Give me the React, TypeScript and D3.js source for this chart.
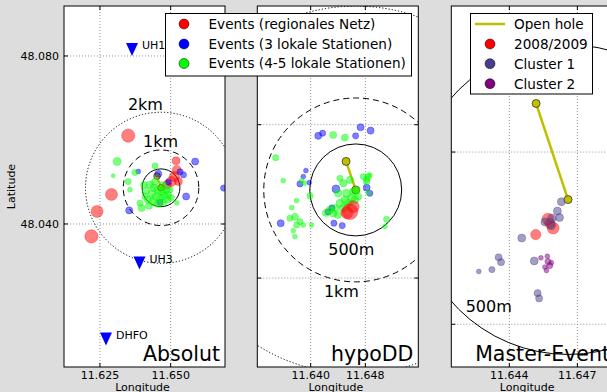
import React from 'react';
import * as d3 from 'd3';

const W = 607;
const H = 392;
const BG = '#dddddd';
const FONT = "'DejaVu Sans', 'Bitstream Vera Sans', sans-serif";
const M_PER_DEG_LAT = 111200;
const M_PER_DEG_LON = 74410;

// open hole (well) – lon/lat
const WELL_BOTTOM_LON = 11.64659;
const WELL_BOTTOM_LAT = 48.04862;
const WELL_TOP_LON = 11.64518;
const WELL_TOP_LAT = 48.05141;

// stations
const STATION_NAMES = ['UH1', 'UH3', 'DHFO'];
const STATION_LON = [11.63634, 11.63899, 11.62714];
const STATION_LAT = [48.08155, 48.0307, 48.01262];

// events: [east offset m, north offset m, magnitude] relative to open-hole bottom
type Ev = [number, number, number];

// ---- Absolut ----
const ABS_REGIONAL: Ev[] = [
  [-863, 1381, 2.1], [-1302, -177, 1.8], [-1682, -626, 1.8], [-1830, -1286, 2.1],
  [396, 713, 0.9], [414, 475, 1.1], [351, 298, 1.4], [272, 166, 1.4], [457, 166, 0.9], [158, 79, 1.1],
];
const ABS_LOCAL3: Ev[] = [
  [898, 694, 0.7], [589, 343, 0.5], [660, -230, 0.7], [-837, -599, 0.7], [1645, -8, 0.5],
  [-71, 370, 0.7], [193, 150, 0.5], [-26, -388, 0.5], [-599, 430, 0.2], [502, 422, 0.5],
];
const ABS_LOCAL45: Ev[] = [
  [-1154, 694, 0.9], [-1259, 317, 0], [-863, 166, 0.5], [-818, -53, 0.2], [-686, 404, 0.5],
  [-158, 581, 0.5], [-510, -536, 0.7], [-554, -404, 0.5], [414, -404, 0.2], [238, -53, 0.5],
  [-422, -230, 0.5],
  [-290, 79, 0.8], [-185, 0, 0.9], [-79, -53, 0.9], [26, -106, 0.8], [132, -53, 0.8],
  [-238, -158, 0.9], [-132, -238, 0.9], [-26, -264, 0.8], [79, -211, 0.9], [185, -185, 0.7],
  [-343, -317, 0.8], [-211, -370, 0.9], [-79, -422, 0.8], [53, -396, 0.7], [-396, -79, 0.7],
  [-158, 158, 0.7], [53, 79, 0.6], [-317, -475, 0.7], [158, -317, 0.7], [-449, 79, 0.6],
  [264, -264, 0.6],
];

// ---- hypoDD ----
const HYPO_REGIONAL: Ev[] = [
  [-63, -236, 2.7], [-27, -182, 1.8], [-96, -250, 1.8],
];
const HYPO_LOCAL3: Ev[] = [
  [-408, 588, 0.7], [-360, 617, 0.5], [53, 682, 0.7], [162, 645, 0.7], [-1, 588, 0.5],
  [-542, 210, 0.2], [-571, 145, 0.2], [-607, 65, 0.5], [-506, 79, 0.2], [-215, 11, 0.9],
  [119, 25, 0.7], [-817, -362, 0.7], [-237, -362, 0.5], [-147, -388, 0.5], [154, -36, 0.5],
  [-259, -196, 0.5], [-302, -239, 0.5],
];
const HYPO_LOCAL45: Ev[] = [
  [-245, 598, 0.7], [-118, 569, 0.7], [-872, 351, 0.5], [-789, 101, 0.2], [-589, 101, 0.2],
  [-560, 73, 0.2], [-643, -116, 0.2], [-697, -193, 0.2], [-498, -65, 0.5], [154, 163, 0.2],
  [119, 116, 0.5], [136, -29, 0.2], [-716, -308, 0.5], [-662, -291, 0.7], [-643, -381, 0.5],
  [-571, -381, 0.2], [-480, -381, 0.2], [-680, -443, 0.2], [-662, -508, 0.2], [336, -319, 0.5],
  [318, -399, 0.2], [-607, -345, 0.5], [-172, 127, 0.5], [82, 145, 0.5], [136, 145, 0.5],
  [-136, 73, 0.8], [-63, 109, 0.7], [-190, -36, 0.8], [-99, -36, 0.9], [-27, -18, 0.8],
  [-45, -90, 0.9], [-118, -109, 0.9], [-172, -145, 0.9], [-226, -199, 0.8], [-281, -218, 0.8],
  [-245, -254, 0.8], [-136, -199, 0.9], [-82, -145, 0.9], [-9, -109, 0.8], [27, -73, 0.7],
  [10, 0, 0.7], [119, 90, 0.6], [-194, -272, 0.7], [-324, -250, 0.7],
];

// ---- Master-Event ----
const ME_2008_2009: Ev[] = [
  [-106, -113, 1.4], [-66, -63, 1.8], [-49, -92, 1.8], [-60, -77, 1.4],
];
const ME_CLUSTER1: Ev[] = [
  [-22, -7, 0.9], [-35, -37, 0.9], [-28, -58, 0.9], [-53, -61, 1.1], [-55, -83, 1.1],
  [-76, -72, 0.9], [-152, -124, 0.9], [-228, -186, 0.7], [-220, -202, 0.7], [-250, -226, 0.5],
  [-293, -232, 0.2], [-111, -198, 0.9], [-100, -302, 0.7], [-95, -319, 0.7],
];
const ME_CLUSTER2: Ev[] = [
  [-89, -188, 0.2], [-68, -183, 0.2], [-66, -200, 0.5], [-55, -204, 0.2], [-60, -213, 0.5],
  [-71, -229, 0.2], [-76, -218, 0.2],
];

const LEGEND1 = ['Events (regionales Netz)', 'Events (3 lokale Stationen)', 'Events (4-5 lokale Stationen)'];
const LEGEND2 = ['Open hole', '2008/2009', 'Cluster 1', 'Cluster 2'];

const C_RED = '#ff0000';
const C_BLUE = '#0000ff';
const C_GREEN = '#00ff00';
const C_C1 = '#483d8b';
const C_C2 = '#800080';
const C_WELL = '#bfbf00';

const radius = (mag: number) => 2 + 2.2 * mag;

type Ring = { km: number; dash: string; label?: string; lx?: number; ly?: number };
type Layer = { data: Ev[]; color: string };

type PanelProps = {
  id: string;
  frame: [number, number, number, number];
  lon: [number, number];
  lat: [number, number];
  xTicks: number[];
  yTicks: number[];
  yLabels: boolean;
  rings: Ring[];
  layers: Layer[];
  wellR: number;
  wellW: number;
  wellOnTop: boolean;
  stations: boolean;
  title: string;
};

function Panel(p: PanelProps) {
  const [x0, y0, x1, y1] = p.frame;
  const x = d3.scaleLinear().domain(p.lon).range([x0, x1]);
  const y = d3.scaleLinear().domain(p.lat).range([y0, y1]);
  const cx = x(WELL_BOTTOM_LON);
  const cy = y(WELL_BOTTOM_LAT);
  const kmPx = Math.abs(y(WELL_BOTTOM_LAT + 1000 / M_PER_DEG_LAT) - cy);
  const ex = (e: number) => x(WELL_BOTTOM_LON + e / M_PER_DEG_LON);
  const ny = (n: number) => y(WELL_BOTTOM_LAT + n / M_PER_DEG_LAT);
  const fmt = d3.format('.3f');

  const well = (
    <g>
      <line x1={x(WELL_TOP_LON)} y1={y(WELL_TOP_LAT)} x2={cx} y2={cy} stroke={C_WELL} strokeWidth={p.wellW} />
      <circle cx={x(WELL_TOP_LON)} cy={y(WELL_TOP_LAT)} r={p.wellR} fill={C_WELL} stroke="#222" strokeWidth={0.7} />
      <circle cx={cx} cy={cy} r={p.wellR} fill={C_WELL} stroke="#222" strokeWidth={0.7} />
    </g>
  );

  return (
    <g>
      <defs>
        <clipPath id={`clip-${p.id}`}>
          <rect x={x0} y={y0} width={x1 - x0} height={y1 - y0} />
        </clipPath>
      </defs>
      <rect x={x0} y={y0} width={x1 - x0} height={y1 - y0} fill="#ffffff" />
      <g clipPath={`url(#clip-${p.id})`}>
        {p.xTicks.map((t) => (
          <line key={`gx${t}`} x1={x(t)} x2={x(t)} y1={y0} y2={y1} stroke="#777" strokeWidth={0.8} strokeDasharray="1 2" />
        ))}
        {p.yTicks.map((t) => (
          <line key={`gy${t}`} x1={x0} x2={x1} y1={y(t)} y2={y(t)} stroke="#777" strokeWidth={0.8} strokeDasharray="1 2" />
        ))}
        {p.rings.map((r) => (
          <circle key={`r${r.km}`} cx={cx} cy={cy} r={r.km * kmPx} fill="none" stroke="#000" strokeWidth={1} strokeDasharray={r.dash} />
        ))}
        {!p.wellOnTop && well}
        {p.layers.map((l, li) => (
          <g key={`l${li}`}>
            {l.data.map((e, i) => (
              <circle key={i} cx={ex(e[0])} cy={ny(e[1])} r={radius(e[2])} fill={l.color} fillOpacity={0.5}
                stroke={l.color} strokeOpacity={0.55} strokeWidth={0.6} />
            ))}
          </g>
        ))}
        {p.wellOnTop && well}
        {p.stations && STATION_NAMES.map((s, i) => {
          const sx = x(STATION_LON[i]);
          const sy = y(STATION_LAT[i]);
          return (
            <g key={s}>
              <path d={`M${sx - 6},${sy - 6.5}L${sx + 6},${sy - 6.5}L${sx},${sy + 6.5}Z`} fill={C_BLUE} />
              <text x={sx + 10} y={sy} fontSize={11} fill="#000">{s}</text>
            </g>
          );
        })}
        {p.rings.filter((r) => r.label).map((r) => (
          <text key={`rl${r.km}`} x={ex(r.lx!)} y={ny(r.ly!)} fontSize={16} fill="#000">{r.label}</text>
        ))}
      </g>
      <rect x={x0} y={y0} width={x1 - x0} height={y1 - y0} fill="none" stroke="#000" strokeWidth={1} />
      {p.xTicks.map((t) => (
        <g key={`tx${t}`}>
          <line x1={x(t)} x2={x(t)} y1={y1} y2={y1 - 4} stroke="#000" />
          <line x1={x(t)} x2={x(t)} y1={y0} y2={y0 + 4} stroke="#000" />
          <text x={x(t)} y={379} fontSize={11} textAnchor="middle" fill="#000">{fmt(t)}</text>
        </g>
      ))}
      {p.yTicks.map((t) => (
        <g key={`ty${t}`}>
          <line x1={x0} x2={x0 + 4} y1={y(t)} y2={y(t)} stroke="#000" />
          <line x1={x1} x2={x1 - 4} y1={y(t)} y2={y(t)} stroke="#000" />
          {p.yLabels && (
            <text x={x0 - 5} y={y(t)} dy="0.36em" fontSize={11} textAnchor="end" fill="#000">{fmt(t)}</text>
          )}
        </g>
      ))}
      <text x={(x0 + Math.min(x1, W)) / 2 - 2} y={391} fontSize={11} textAnchor="middle" fill="#000">Longitude</text>
      <text x={Math.min(x1, 615) - 5} y={361} fontSize={20.5} textAnchor="end" fill="#000">{p.title}</text>
    </g>
  );
}

function Legend1() {
  const colors = [C_RED, C_BLUE, C_GREEN];
  const ys = [24, 44, 63.5];
  return (
    <g>
      <rect x={165.5} y={13.5} width={246} height={62.5} fill="#fff" stroke="#000" strokeWidth={1} />
      {LEGEND1.map((t, i) => (
        <g key={t}>
          <circle cx={184} cy={ys[i]} r={5} fill={colors[i]} stroke="#000" strokeWidth={0.5} />
          <text x={208.5} y={ys[i] + 4.8} fontSize={13.6} fill="#000">{t}</text>
        </g>
      ))}
    </g>
  );
}

function Legend2() {
  const ys = [24, 44, 63.7, 83.7];
  const colors = [C_WELL, C_RED, C_C1, C_C2];
  return (
    <g>
      <rect x={470.5} y={13.5} width={122} height={80.5} fill="#fff" stroke="#000" strokeWidth={1} />
      {LEGEND2.map((t, i) => (
        <g key={t}>
          {i === 0 ? (
            <line x1={475} x2={505} y1={ys[i]} y2={ys[i]} stroke={C_WELL} strokeWidth={2.5} />
          ) : (
            <circle cx={490} cy={ys[i]} r={5} fill={colors[i]} stroke="#000" strokeWidth={0.5} />
          )}
          <text x={514} y={ys[i] + 4.8} fontSize={13.6} fill="#000">{t}</text>
        </g>
      ))}
    </g>
  );
}

export default function App() {
  return (
    <div style={{ position: 'fixed', left: 0, top: 0 }}>
      <svg width={W} height={H} style={{ display: 'block', background: BG }} fontFamily={FONT}>
        <rect x={0} y={0} width={W} height={H} fill={BG} />
        <Panel
          id="abs"
          frame={[64, 6, 225, 367]}
          lon={[11.6123, 11.6692]}
          lat={[48.0919, 48.00595]}
          xTicks={[11.625, 11.65]}
          yTicks={[48.04, 48.08]}
          yLabels={true}
          rings={[
            { km: 2, dash: '1.2 2', label: '2km', lx: -871, ly: 2059 },
            { km: 1, dash: '6 4', label: '1km', lx: -475, ly: 1082 },
            { km: 0.5, dash: '' },
          ]}
          layers={[
            { data: ABS_REGIONAL, color: C_RED },
            { data: ABS_LOCAL3, color: C_BLUE },
            { data: ABS_LOCAL45, color: C_GREEN },
          ]}
          wellR={3.3}
          wellW={2}
          wellOnTop={false}
          stations={true}
          title="Absolut"
        />
        <Panel
          id="hypo"
          frame={[257.3, 6, 418.3, 367]}
          lon={[11.63219, 11.65575]}
          lat={[48.06661, 48.0313]}
          xTicks={[11.64, 11.648]}
          yTicks={[48.04, 48.055]}
          yLabels={false}
          rings={[
            { km: 2, dash: '1.2 2' },
            { km: 1, dash: '6 4', label: '1km', lx: -346, ly: -1161 },
            { km: 0.5, dash: '', label: '500m', lx: -299, ly: -707 },
          ]}
          layers={[
            { data: HYPO_LOCAL3, color: C_BLUE },
            { data: HYPO_LOCAL45, color: C_GREEN },
            { data: HYPO_REGIONAL, color: C_RED },
          ]}
          wellR={4}
          wellW={2.5}
          wellOnTop={false}
          stations={false}
          title="hypoDD"
        />
        <Legend1 />
        <Panel
          id="me"
          frame={[451.3, 6, 615, 367]}
          lon={[11.64144, 11.64866]}
          lat={[48.05424, 48.04376]}
          xTicks={[11.644, 11.647]}
          yTicks={[48.045, 48.05]}
          yLabels={false}
          rings={[
            { km: 2, dash: '1.2 2' },
            { km: 1, dash: '6 4' },
            { km: 0.5, dash: '', label: '500m', lx: -336, ly: -362 },
          ]}
          layers={[
            { data: ME_2008_2009, color: C_RED },
            { data: ME_CLUSTER1, color: C_C1 },
            { data: ME_CLUSTER2, color: C_C2 },
          ]}
          wellR={4}
          wellW={2.5}
          wellOnTop={true}
          stations={false}
          title="Master-Event"
        />
        <Legend2 />
        <text transform="translate(15,186.5) rotate(-90)" fontSize={11} textAnchor="middle" fill="#000">Latitude</text>
      </svg>
    </div>
  );
}
